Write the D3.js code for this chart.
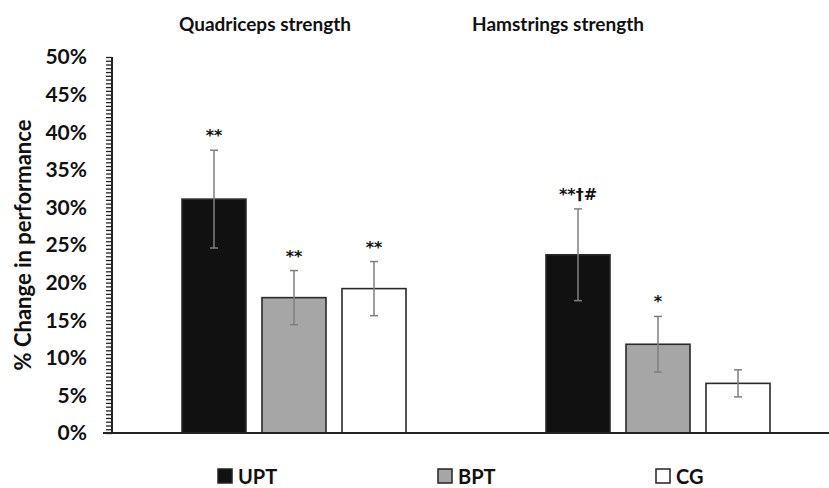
<!DOCTYPE html>
<html>
<head>
<meta charset="utf-8">
<script src="https://cdn.jsdelivr.net/npm/d3@7"></script>
<style>
  body { margin: 0; background: #fff; }
  svg text { font-family: Lato, "Open Sans", sans-serif; font-weight: bold; fill: #111; }
  svg text.mark { font-family: "DejaVu Sans", sans-serif; }
</style>
</head>
<body>
<div id="chart"></div>
<script>
// Chart data
var groups = ["Quadriceps strength", "Hamstrings strength"];
var series = ["UPT", "BPT", "CG"];
var uptValues = [31.1, 23.7];
var uptErrors = [6.5, 6.1];
var bptValues = [18.0, 11.8];
var bptErrors = [3.6, 3.7];
var cgValues = [19.2, 6.6];
var cgErrors = [3.6, 1.8];
var uptMarks = ["**", "**†#"];
var bptMarks = ["**", "*"];
var cgMarks = ["**", ""];
var yTicks = [0, 5, 10, 15, 20, 25, 30, 35, 40, 45, 50];

var fills = { UPT: "#111111", BPT: "#a6a6a6", CG: "#ffffff" };

// flatten into rows for drawing
var values = { UPT: uptValues, BPT: bptValues, CG: cgValues };
var errors = { UPT: uptErrors, BPT: bptErrors, CG: cgErrors };
var marks = { UPT: uptMarks, BPT: bptMarks, CG: cgMarks };
var rows = [];
groups.forEach(function (g, i) {
  series.forEach(function (s) {
    rows.push({ group: g, series: s, value: values[s][i], err: errors[s][i], mark: marks[s][i] });
  });
});

var width = 829, height = 488;
var svg = d3.select("#chart").append("svg")
  .attr("width", width)
  .attr("height", height);

// Scales
var x0 = d3.scaleBand().domain(groups).range([112, 840]);
var x1 = d3.scaleBand().domain(series).range([62, 302]).paddingInner(0.2).paddingOuter(0.1);
var y = d3.scaleLinear().domain([0, 50]).range([433, 57]);

// Y axis with minor ticks
var yAxis = svg.append("g")
  .attr("transform", "translate(112,0)")
  .call(d3.axisLeft(y).tickValues(d3.range(0, 50.01, 0.5)).tickSize(6).tickFormat(""));
yAxis.select(".domain").remove();
yAxis.selectAll(".tick line").attr("stroke", "#222").attr("stroke-width", 1.3);

svg.append("g")
  .selectAll("text")
  .data(yTicks)
  .enter()
  .append("text")
  .attr("x", 87)
  .attr("y", function (d) { return y(d); })
  .attr("dy", "0.35em")
  .attr("text-anchor", "end")
  .style("font-size", "21px")
  .text(function (d) { return d + "%"; });

svg.append("line")
  .attr("x1", 112).attr("x2", 112)
  .attr("y1", y(50)).attr("y2", y(0))
  .attr("stroke", "#222").attr("stroke-width", 2);

// Y axis title
svg.append("text")
  .attr("transform", "translate(31," + 245 + ") rotate(-90)")
  .attr("text-anchor", "middle")
  .style("font-size", "22px")
  .text("% Change in performance");

// Bars
var bars = svg.append("g");
bars.selectAll("rect")
  .data(rows)
  .enter()
  .append("rect")
  .attr("x", function (d) { return x0(d.group) + x1(d.series); })
  .attr("y", function (d) { return y(d.value); })
  .attr("width", x1.bandwidth())
  .attr("height", function (d) { return y(0) - y(d.value); })
  .attr("fill", function (d) { return fills[d.series]; })
  .attr("stroke", "#2a2a2a")
  .attr("stroke-width", 1.6);

// Error bars
var eb = svg.append("g").attr("stroke", "#7f7f7f").attr("stroke-width", 1.5);
rows.forEach(function (d) {
  var cx = x0(d.group) + x1(d.series) + x1.bandwidth() / 2;
  eb.append("line").attr("x1", cx).attr("x2", cx)
    .attr("y1", y(d.value + d.err)).attr("y2", y(d.value - d.err));
  [d.value + d.err, d.value - d.err].forEach(function (v) {
    eb.append("line").attr("x1", cx - 4).attr("x2", cx + 4)
      .attr("y1", y(v)).attr("y2", y(v));
  });
});

// Significance marks
svg.append("g")
  .selectAll("text")
  .data(rows)
  .enter()
  .append("text")
  .attr("class", "mark")
  .attr("x", function (d) { return x0(d.group) + x1(d.series) + x1.bandwidth() / 2; })
  .attr("y", function (d) { return y(d.value + d.err) - 9; })
  .attr("text-anchor", "middle")
  .style("font-size", "16px")
  .text(function (d) { return d.mark; });

// X axis line
svg.append("line")
  .attr("x1", 103).attr("x2", 829)
  .attr("y1", y(0)).attr("y2", y(0))
  .attr("stroke", "#222").attr("stroke-width", 2);

// Group titles
var titleX = [265, 558];
svg.append("g")
  .selectAll("text")
  .data(groups)
  .enter()
  .append("text")
  .attr("x", function (d, i) { return titleX[i]; })
  .attr("y", 31)
  .attr("text-anchor", "middle")
  .style("font-size", "19px")
  .text(function (d) { return d; });

// Legend
var legendX = [218, 438, 656];
var legend = svg.append("g")
  .selectAll("g")
  .data(series)
  .enter()
  .append("g")
  .attr("transform", function (d, i) { return "translate(" + legendX[i] + ",469)"; });
legend.append("rect")
  .attr("width", 14).attr("height", 14)
  .attr("fill", function (d) { return fills[d]; })
  .attr("stroke", "#222").attr("stroke-width", 1.5);
legend.append("text")
  .attr("x", 20).attr("y", 14.5)
  .style("font-size", "20px")
  .text(function (d) { return d; });
</script>
</body>
</html>
